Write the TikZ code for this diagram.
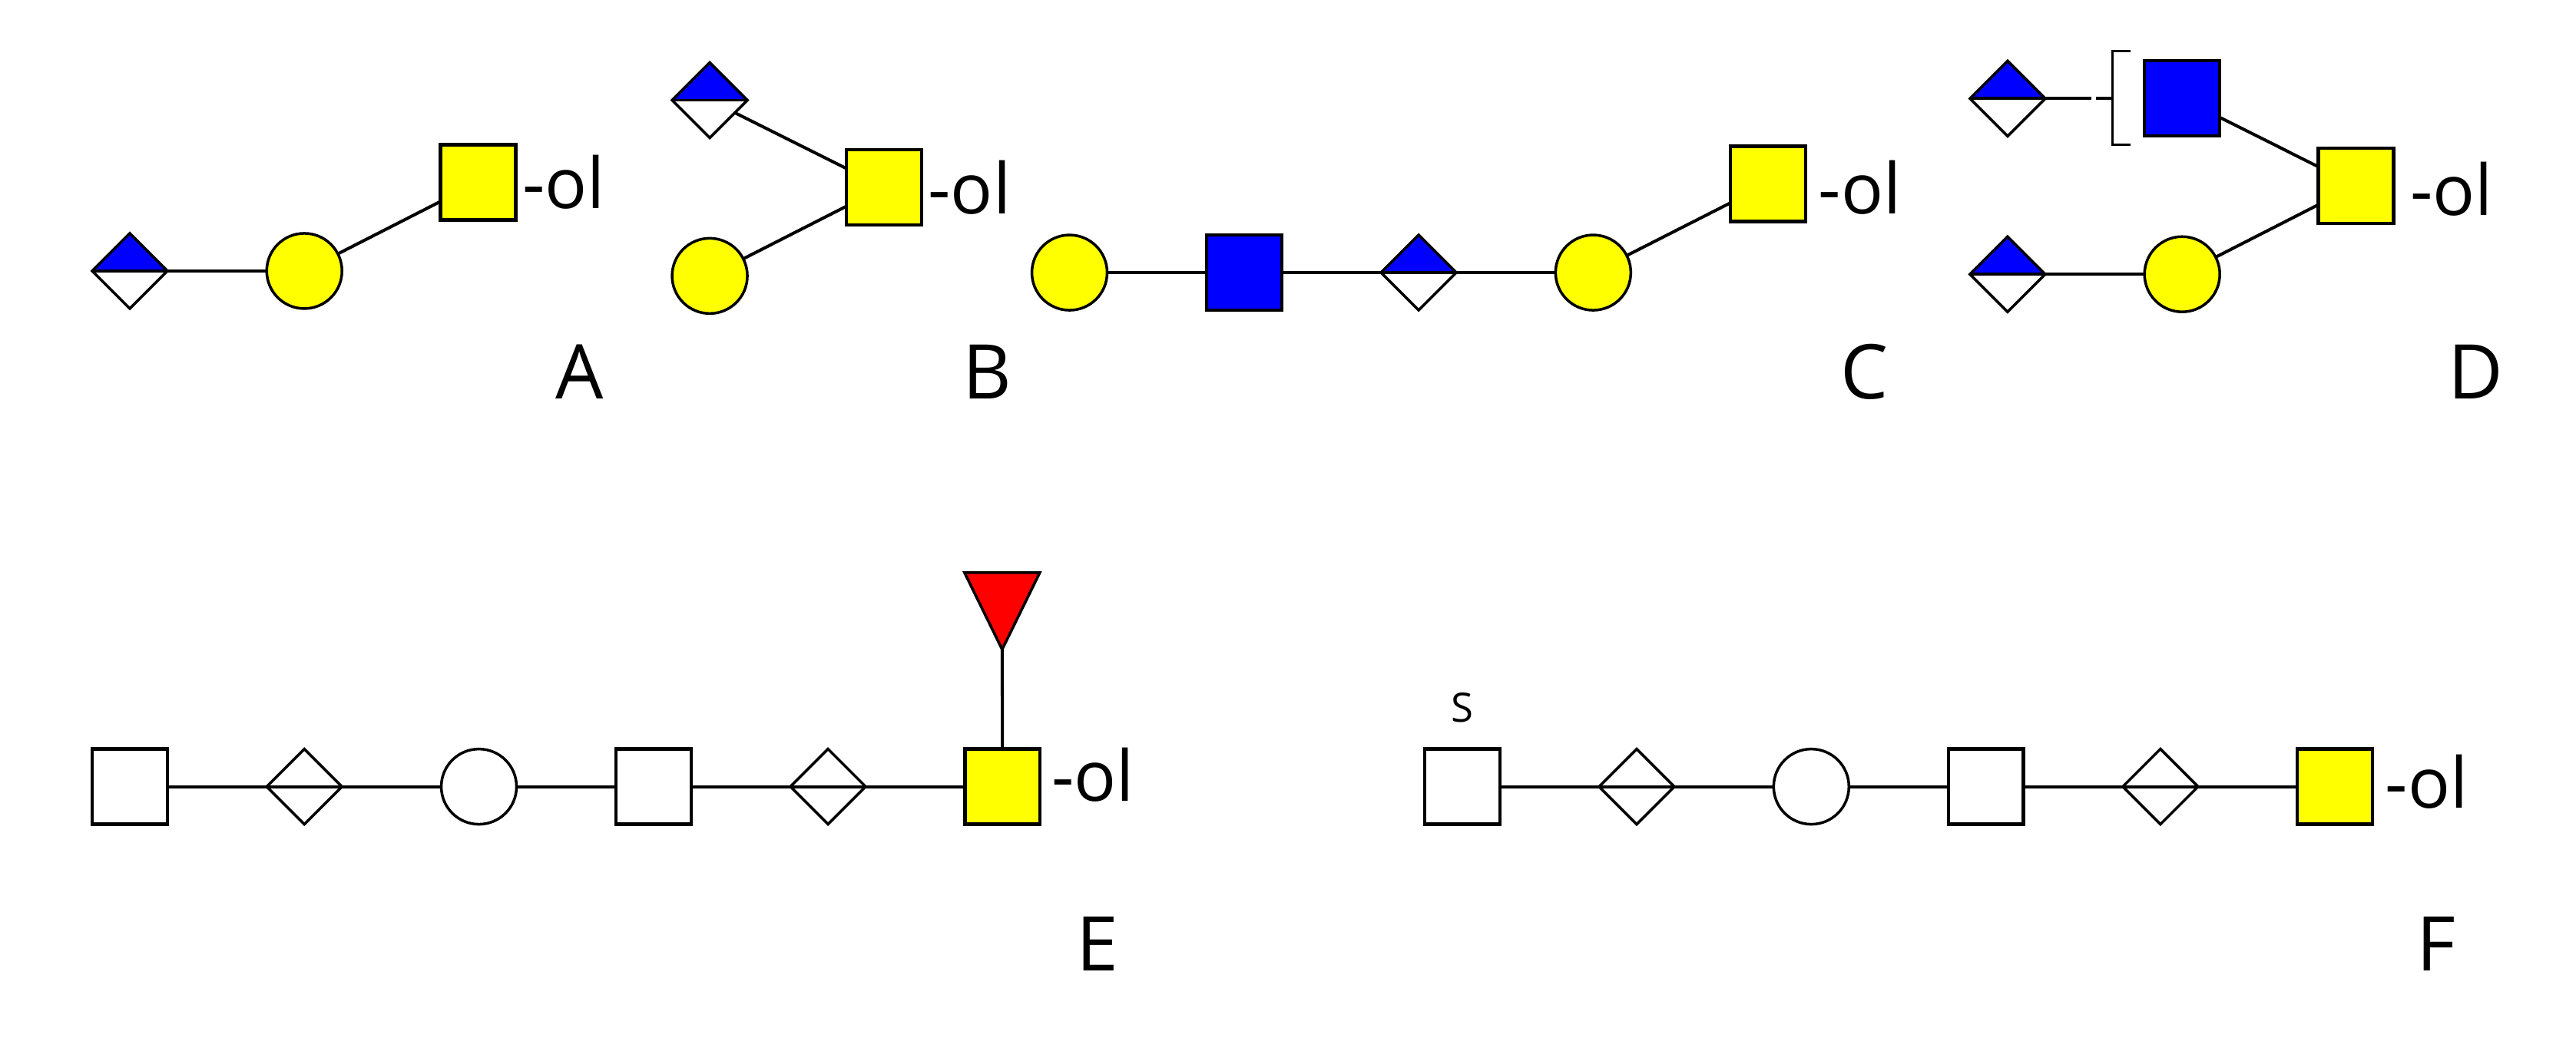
\documentclass[tikz,border=0pt]{standalone}
\usepackage{fontspec}
\setmainfont{Open Sans}
\usepackage{tikz}
\usetikzlibrary{shapes.geometric, positioning}
\definecolor{gallight}{HTML}{FFFF00}
\definecolor{nacblue}{HTML}{0000FF}
\definecolor{fucred}{HTML}{FF0000}

\begin{document}
\begin{tikzpicture}[
  x=0.02139cm, y=-0.02139cm,
  node distance=1.293cm,
  every node/.style={inner sep=0pt, outer sep=0pt},
  sq/.style={rectangle, draw=black, line width=1.2pt, fill=white, minimum size=0.98cm},
  circ/.style={circle, draw=black, line width=1pt, fill=white, minimum size=0.98cm},
  dia/.style={diamond, draw=black, line width=1pt, fill=white, minimum size=0.98cm,
    path picture={\draw[line width=1.1pt] (path picture bounding box.west) -- (path picture bounding box.east);}},
  sia/.style={diamond, draw=black, line width=1pt, fill=white, minimum size=0.98cm,
    path picture={\fill[nacblue] (path picture bounding box.west) -- (path picture bounding box.north) -- (path picture bounding box.east) -- cycle;
      \draw[line width=1.1pt] (path picture bounding box.west) -- (path picture bounding box.east);}},
  fuc/.style={isosceles triangle, isosceles triangle apex angle=52, isosceles triangle stretches, shape border rotate=-90, draw=black, line width=1pt, fill=fucred, minimum width=0.98cm, minimum height=1cm},
  link/.style={line width=1.15pt},
  ol/.style={anchor=base west, font=\fontsize{26}{26}\selectfont},
  tag/.style={anchor=base, font=\fontsize{28}{28}\selectfont}
]
\useasboundingbox (0,0) rectangle (1568,632);

% Structure A
\node[sia] (a1) at (79,165) {};
\node[circ, fill=gallight, right=of a1] (a2) {};
\node[sq, fill=gallight] (a3) at (291,111) {};
\node[ol] (aol) at (318,127) {-ol};
\node[tag] (atag) at (353,243) {A};
\draw[link] (a1) -- (a2);
\draw[link] (a2) -- (a3);

% Structure B
\node[sia] (b1) at (432,61) {};
\node[circ, fill=gallight] (b2) at (432,168) {};
\node[sq, fill=gallight] (b3) at (538,114) {};
\node[ol] (bol) at (565,130) {-ol};
\node[tag] (btag) at (601,243) {B};
\draw[link] (b1) -- (b3);
\draw[link] (b2) -- (b3);

% Structure C
\node[circ, fill=gallight] (c1) at (651,166) {};
\node[sq, fill=nacblue, right=of c1] (c2) {};
\node[sia, right=of c2] (c3) {};
\node[circ, fill=gallight, right=of c3] (c4) {};
\node[sq, fill=gallight] (c5) at (1076,112) {};
\node[ol] (col) at (1107,130) {-ol};
\node[tag] (ctag) at (1135,243) {C};
\draw[link] (c1) -- (c2);
\draw[link] (c2) -- (c3);
\draw[link] (c3) -- (c4);
\draw[link] (c4) -- (c5);

% Structure D
\node[sia] (d1) at (1222,60) {};
\node[sq, fill=nacblue, right=of d1] (d2) {};
\node[sq, fill=gallight] (d3) at (1434,113) {};
\node[sia] (d4) at (1222,167) {};
\node[circ, fill=gallight, right=of d4] (d5) {};
\node[ol] (dol) at (1467,131) {-ol};
\node[tag] (dtag) at (1507,243) {D};
\coordinate (dgap) at (1273,60);
\coordinate (dstub) at (1276,60);
\coordinate (dbrk) at (1286,60);
\draw[link] (d1) -- (dgap);
\draw[link] (dstub) -- (dbrk);
\draw[line width=0.9pt] (1297,31) -- (1286,31) -- (1286,88) -- (1297,88);
\draw[link] (d2) -- (d3);
\draw[link] (d4) -- (d5);
\draw[link] (d5) -- (d3);

% Structure E
\node[sq] (e1) at (79,479) {};
\node[dia, right=of e1] (e2) {};
\node[circ, right=of e2] (e3) {};
\node[sq, right=of e3] (e4) {};
\node[dia, right=of e4] (e5) {};
\node[sq, fill=gallight, right=of e5] (e6) {};
\node[fuc] (e7) at (610,363) {};
\node[ol] (eol) at (640,488) {-ol};
\node[tag] (etag) at (668,591) {E};
\draw[link] (e1) -- (e2);
\draw[link] (e2) -- (e3);
\draw[link] (e3) -- (e4);
\draw[link] (e4) -- (e5);
\draw[link] (e5) -- (e6);
\draw[link] (e6) -- (e7.apex);

% Structure F
\node[sq] (f1) at (890,479) {};
\node[dia, right=of f1] (f2) {};
\node[circ, right=of f2] (f3) {};
\node[sq, right=of f3] (f4) {};
\node[dia, right=of f4] (f5) {};
\node[sq, fill=gallight, right=of f5] (f6) {};
\node[ol] (fol) at (1452,492) {-ol};
\node[tag] (ftag) at (1483,591) {F};
\node[font=\fontsize{15}{15}\selectfont] (fs) at (890,431) {S};
\draw[link] (f1) -- (f2);
\draw[link] (f2) -- (f3);
\draw[link] (f3) -- (f4);
\draw[link] (f4) -- (f5);
\draw[link] (f5) -- (f6);

\end{tikzpicture}
\end{document}
